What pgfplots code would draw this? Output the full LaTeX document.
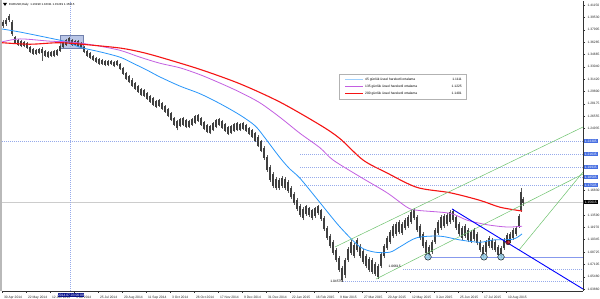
\documentclass[border=0pt]{standalone}
\usepackage{pgfplots}
\pgfplotsset{compat=1.18}
\usepackage{pgfplotstable}
\usepackage{fontspec}
\setmainfont{Liberation Sans}
\definecolor{emablue}{RGB}{40,150,250}
\definecolor{emapurple}{RGB}{195,95,225}
\definecolor{emared}{RGB}{245,20,20}
\definecolor{dotblue}{RGB}{150,170,235}
\definecolor{lblblue}{RGB}{70,110,225}
\definecolor{trendgreen}{RGB}{110,195,110}
\definecolor{navyhl}{RGB}{10,20,140}
\definecolor{circblue}{RGB}{150,205,230}
\definecolor{boxblue}{RGB}{140,160,215}
\newcommand{\tk}{\fontsize{3.3}{4}\selectfont}
\newcommand{\ttl}{\fontsize{2.9}{3.4}\selectfont}

\pgfplotstableread{
x hi lo bhi blo
3 1.392 1.381 1.389 1.384
6 1.394 1.384 1.392 1.387
9 1.400 1.389 1.397 1.392
12 1.392 1.371 1.389 1.373
15 1.371 1.360 1.369 1.362
18 1.367 1.358 1.366 1.359
21 1.366 1.356 1.364 1.358
24 1.364 1.356 1.363 1.358
27 1.363 1.354 1.362 1.355
30 1.358 1.348 1.356 1.350
33 1.355 1.346 1.354 1.347
36 1.354 1.346 1.352 1.347
39 1.355 1.347 1.354 1.348
42 1.356 1.338 1.354 1.348
45 1.352 1.343 1.351 1.345
48 1.351 1.342 1.350 1.343
51 1.351 1.343 1.350 1.345
54 1.352 1.343 1.351 1.345
57 1.354 1.345 1.352 1.346
60 1.359 1.350 1.358 1.351
63 1.364 1.355 1.363 1.356
66 1.367 1.358 1.366 1.359
69 1.369 1.360 1.368 1.362
72 1.367 1.358 1.366 1.359
75 1.366 1.358 1.364 1.359
78 1.366 1.356 1.364 1.358
81 1.363 1.355 1.362 1.356
84 1.358 1.348 1.356 1.350
87 1.352 1.343 1.351 1.345
90 1.350 1.341 1.348 1.342
93 1.346 1.338 1.345 1.339
96 1.343 1.335 1.342 1.337
99 1.342 1.333 1.341 1.334
102 1.341 1.333 1.339 1.334
105 1.339 1.331 1.338 1.333
108 1.339 1.331 1.338 1.333
111 1.339 1.333 1.338 1.334
114 1.338 1.330 1.337 1.331
117 1.339 1.331 1.338 1.333
120 1.335 1.326 1.334 1.327
123 1.330 1.320 1.329 1.321
126 1.324 1.313 1.322 1.314
129 1.320 1.309 1.318 1.310
132 1.316 1.304 1.313 1.305
135 1.310 1.300 1.309 1.301
138 1.306 1.296 1.305 1.297
141 1.303 1.292 1.301 1.293
144 1.301 1.291 1.300 1.292
147 1.297 1.287 1.296 1.288
150 1.293 1.283 1.292 1.284
153 1.291 1.279 1.289 1.280
156 1.287 1.276 1.285 1.278
159 1.288 1.278 1.287 1.279
162 1.284 1.274 1.283 1.275
165 1.280 1.270 1.279 1.271
168 1.276 1.264 1.275 1.266
171 1.271 1.259 1.270 1.261
174 1.264 1.253 1.263 1.254
177 1.261 1.247 1.259 1.250
180 1.263 1.251 1.262 1.253
183 1.264 1.253 1.263 1.254
186 1.262 1.250 1.261 1.251
189 1.261 1.250 1.259 1.251
192 1.263 1.253 1.262 1.254
195 1.267 1.255 1.266 1.257
198 1.268 1.258 1.267 1.259
201 1.264 1.253 1.263 1.254
204 1.259 1.247 1.258 1.249
207 1.255 1.243 1.254 1.245
210 1.254 1.242 1.253 1.243
213 1.258 1.246 1.257 1.247
216 1.262 1.250 1.261 1.251
219 1.263 1.253 1.262 1.254
222 1.261 1.249 1.259 1.250
225 1.257 1.245 1.255 1.246
228 1.253 1.241 1.251 1.242
231 1.254 1.242 1.253 1.243
234 1.257 1.245 1.255 1.246
237 1.258 1.246 1.257 1.247
240 1.257 1.246 1.255 1.247
243 1.258 1.247 1.257 1.249
246 1.255 1.245 1.254 1.246
249 1.251 1.241 1.250 1.242
252 1.249 1.237 1.247 1.238
255 1.245 1.232 1.243 1.233
258 1.241 1.225 1.238 1.226
261 1.234 1.218 1.233 1.220
264 1.226 1.208 1.224 1.211
267 1.214 1.192 1.212 1.195
270 1.201 1.179 1.199 1.182
273 1.192 1.171 1.190 1.174
276 1.186 1.169 1.183 1.171
279 1.184 1.169 1.182 1.171
282 1.187 1.171 1.184 1.174
285 1.186 1.169 1.183 1.171
288 1.182 1.165 1.179 1.167
291 1.174 1.157 1.171 1.159
294 1.166 1.149 1.163 1.152
297 1.158 1.141 1.155 1.144
300 1.150 1.133 1.148 1.136
303 1.146 1.129 1.144 1.132
306 1.149 1.135 1.148 1.137
309 1.146 1.133 1.145 1.136
312 1.144 1.129 1.142 1.132
315 1.146 1.132 1.145 1.135
318 1.149 1.136 1.148 1.138
321 1.144 1.128 1.142 1.131
324 1.135 1.115 1.132 1.117
327 1.121 1.103 1.119 1.106
330 1.111 1.092 1.108 1.095
333 1.103 1.083 1.100 1.086
336 1.092 1.074 1.090 1.077
339 1.082 1.061 1.079 1.064
342 1.069 1.048 1.066 1.050
345 1.079 1.053 1.077 1.057
348 1.094 1.074 1.091 1.077
351 1.103 1.083 1.100 1.086
354 1.099 1.079 1.096 1.082
357 1.106 1.087 1.103 1.090
360 1.098 1.079 1.095 1.082
363 1.091 1.071 1.089 1.074
366 1.085 1.066 1.082 1.069
369 1.081 1.061 1.078 1.064
372 1.079 1.058 1.077 1.061
375 1.074 1.056 1.071 1.058
378 1.071 1.052 1.069 1.054
381 1.087 1.066 1.085 1.069
384 1.098 1.079 1.095 1.082
387 1.108 1.090 1.106 1.092
390 1.116 1.098 1.113 1.100
393 1.124 1.106 1.121 1.108
396 1.127 1.108 1.124 1.111
399 1.129 1.111 1.127 1.113
402 1.127 1.110 1.124 1.112
405 1.132 1.116 1.129 1.119
408 1.136 1.119 1.133 1.121
411 1.142 1.124 1.140 1.127
414 1.145 1.129 1.142 1.132
417 1.136 1.113 1.133 1.116
420 1.124 1.103 1.121 1.106
423 1.113 1.092 1.111 1.095
426 1.103 1.083 1.100 1.086
429 1.096 1.079 1.094 1.082
432 1.103 1.085 1.100 1.087
435 1.119 1.098 1.116 1.100
438 1.129 1.110 1.127 1.112
441 1.136 1.116 1.133 1.119
444 1.137 1.119 1.135 1.121
447 1.138 1.121 1.136 1.124
450 1.142 1.124 1.140 1.127
453 1.144 1.127 1.141 1.129
456 1.136 1.116 1.133 1.119
459 1.127 1.108 1.124 1.111
462 1.121 1.103 1.119 1.106
465 1.124 1.106 1.121 1.108
468 1.119 1.100 1.116 1.103
471 1.116 1.099 1.113 1.102
474 1.119 1.102 1.116 1.104
477 1.113 1.096 1.111 1.099
480 1.103 1.087 1.100 1.090
483 1.096 1.079 1.094 1.082
486 1.103 1.085 1.100 1.087
489 1.108 1.092 1.106 1.095
492 1.106 1.090 1.103 1.092
495 1.103 1.087 1.100 1.090
498 1.096 1.081 1.094 1.083
501 1.095 1.079 1.092 1.082
504 1.106 1.090 1.103 1.092
507 1.112 1.098 1.110 1.100
510 1.113 1.099 1.111 1.102
513 1.119 1.103 1.116 1.106
516 1.121 1.108 1.119 1.111
519 1.137 1.119 1.135 1.121
521 1.171 1.140 1.166 1.142
523 1.159 1.148 1.157 1.152
}\candles

\begin{document}
\begin{tikzpicture}
\fill[white] (0pt,0pt) rectangle (600pt,-299pt);
\useasboundingbox (0pt,0pt) rectangle (600pt,-299pt);
\fill[gray!55] (0pt,0pt) rectangle (1.5pt,-291pt);
\begin{axis}[
  at={(2pt,-1pt)}, anchor=north west,
  scale only axis, width=581pt, height=290pt,
  xmin=2, xmax=583, ymin=1.03599, ymax=1.41676,
  axis x line*=bottom, axis y line*=right,
  axis line style={black!80, line width=0.6pt, -},
  tick align=outside, major tick length=2pt,
  tick style={black!80, line width=0.4pt},
  ytick={1.41150,1.39528,1.37907,1.36285,1.34664,1.33042,1.31420,1.29799,1.28177,1.26556,1.24934,1.16826,1.13583,1.11961,1.10340,1.08718,1.07096,1.05475,1.03853},
  yticklabels={1.41150,1.39530,1.37905,1.36285,1.34665,1.33040,1.31420,1.29800,1.28175,1.26555,1.24935,1.16830,1.13590,1.11970,1.10345,1.08725,1.07105,1.05480,1.03860},
  yticklabel style={font=\tk, xshift=-1pt, text=black!85},
  xtick={2,26,50,74,98,122,146,170,194,218,242,266,290,314,338,362,386,410,434,458,482,506},
  xticklabels={30 Apr 2014,22 May 2014,12 Jun 2014,3 Jul 2014,25 Jul 2014,20 Aug 2014,11 Sep 2014,3 Oct 2014,26 Oct 2014,17 Nov 2014,9 Dec 2014,31 Dec 2014,22 Jan 2015,16 Feb 2015,9 Mar 2015,27 Mar 2015,20 Apr 2015,12 May 2015,3 Jun 2015,25 Jun 2015,17 Jul 2015,10 Aug 2015},
  xticklabel style={font=\tk, anchor=north west, xshift=-1.5pt, yshift=0.8pt, text=black!85},
]
% horizontal reference lines
\addplot[gray!40, line width=0.5pt] coordinates {(2,1.1530) (583,1.1530)};
\addplot[dotblue, line width=0.45pt, dash pattern=on 0.8pt off 1.2pt] coordinates {(2,1.2329) (583,1.2329)};
\addplot[dotblue, line width=0.45pt, dash pattern=on 0.8pt off 1.2pt] coordinates {(300,1.2159) (583,1.2159)};
\addplot[dotblue, line width=0.45pt, dash pattern=on 0.8pt off 1.2pt] coordinates {(300,1.1988) (583,1.1988)};
\addplot[dotblue, line width=0.45pt, dash pattern=on 0.8pt off 1.2pt] coordinates {(300,1.1857) (583,1.1857)};
\addplot[dotblue, line width=0.45pt, dash pattern=on 0.8pt off 1.2pt] coordinates {(300,1.1752) (583,1.1752)};
\addplot[dotblue, line width=0.45pt, dash pattern=on 0.8pt off 1.2pt] coordinates {(403,1.0649) (583,1.0649)};
\addplot[dotblue, line width=0.45pt, dash pattern=on 0.8pt off 1.2pt] coordinates {(343,1.0491) (583,1.0491)};
\addplot[dotblue!90!blue, line width=0.6pt] coordinates {(425,1.0800) (583,1.0800)};
% vertical crosshair line
\addplot[dotblue, line width=0.45pt, dash pattern=on 0.8pt off 1.2pt] coordinates {(70,1.03599) (70,1.41676)};
% highlighted rectangle
\addplot[draw=boxblue!80!black, fill=boxblue, fill opacity=0.6, line width=0.4pt] coordinates {(60,1.3721) (83,1.3721) (83,1.3550) (60,1.3550) (60,1.3721)};
% candles: wicks and bodies
\addplot[draw=none, mark=none, error bars/.cd, y dir=plus, y explicit, error mark=none,
  error bar style={draw=black!65, line width=0.45pt}]
  table[x=x, y=lo, y error expr=\thisrow{hi}-\thisrow{lo}] {\candles};
\addplot[draw=none, mark=none, error bars/.cd, y dir=plus, y explicit, error mark=none,
  error bar style={draw=black!75, line width=1.4pt}]
  table[x=x, y=blo, y error expr=\thisrow{bhi}-\thisrow{blo}] {\candles};
% moving averages
\addplot[emablue, line width=0.8pt, smooth] coordinates {(2,1.380)(20,1.376)(50,1.368)(67,1.363)(80,1.356)(100,1.350)(120,1.343)(133,1.335)(147,1.326)(160,1.317)(180,1.305)(200,1.295)(220,1.282)(240,1.267)(255,1.253)(265,1.237)(280,1.211)(290,1.196)(300,1.184)(320,1.152)(340,1.120)(360,1.094)(375,1.087)(390,1.087)(400,1.094)(417,1.106)(440,1.108)(460,1.103)(480,1.100)(493,1.103)(513,1.104)(522,1.111)};
\addplot[emapurple, line width=0.8pt, smooth] coordinates {(2,1.363)(20,1.367)(50,1.364)(70,1.363)(93,1.359)(120,1.352)(140,1.343)(160,1.335)(180,1.329)(200,1.320)(220,1.309)(240,1.297)(260,1.283)(280,1.264)(300,1.243)(320,1.224)(333,1.208)(360,1.186)(387,1.165)(407,1.146)(417,1.142)(450,1.138)(467,1.129)(487,1.123)(507,1.120)(522,1.121)};
\addplot[emared, line width=1.1pt, smooth] coordinates {(2,1.362)(30,1.360)(60,1.362)(90,1.359)(120,1.355)(140,1.350)(160,1.343)(200,1.327)(240,1.308)(280,1.284)(320,1.254)(340,1.236)(363,1.208)(387,1.191)(417,1.172)(450,1.165)(480,1.155)(500,1.146)(522,1.141)};
% trend lines
\addplot[trendgreen, line width=0.5pt] coordinates {(335,1.0938) (583,1.2513)};
\addplot[trendgreen, line width=0.5pt] coordinates {(376,1.0517) (583,1.1896)};
\addplot[trendgreen, line width=0.5pt] coordinates {(519,1.0898) (583,1.1922)};
\addplot[blue, line width=0.9pt] coordinates {(452,1.1437) (583,1.0386)};
% touch circles
\addplot[only marks, mark=*, mark size=3.3pt, mark options={fill=circblue, draw=none, fill opacity=0.85}] coordinates {(428,1.0808) (484,1.0808) (501,1.0808)};
\addplot[only marks, mark=*, mark size=2.3pt, mark options={fill=red!75!black, draw=none, fill opacity=0.75}] coordinates {(508,1.0998)};
% annotations
\node[anchor=east, font=\tk, inner sep=0.5pt] at (axis cs:343,1.0491) {1.04575};
\node[anchor=west, font=\tk, inner sep=0.5pt] at (axis cs:388,1.0688) {1.06615};
\end{axis}
% right-side price tags
\foreach \yy/\lab in {141/1.23305,154/1.21635,167/1.19935,177/1.18585,185/1.17505}{
  \node[fill=lblblue, text=white, font=\tk, inner sep=0.7pt, anchor=west] at (584pt,-\yy pt) {\lab};
}
\node[fill=black, text=white, font=\tk, inner sep=0.7pt, anchor=west] at (584pt,-202pt) {1.15615};
% crosshair date tag
\node[fill=navyhl, text=white, font=\tk, inner sep=0.6pt] at (71pt,-295pt) {2014.07.03 00:00};
% title
\fill[black] (3pt,-3pt) -- (7pt,-3pt) -- (5pt,-6pt) -- cycle;
\node[anchor=west, font=\ttl, inner sep=0pt] at (9pt,-4.5pt) {EURUSD,Daily\ \ 1.16190 1.16311 1.15249 1.15615};
% legend
\draw[gray!60, fill=white, line width=0.4pt] (339pt,-74pt) rectangle (466pt,-99pt);
\draw[emablue!45!white, line width=1.3pt] (345pt,-79.5pt) -- (363pt,-79.5pt);
\draw[emapurple, line width=0.5pt] (345pt,-86.7pt) -- (363pt,-86.7pt);
\draw[emared, line width=0.5pt] (345pt,-93.5pt) -- (363pt,-93.5pt);
\node[anchor=west, font=\tk, inner sep=0pt] at (365pt,-79.5pt) {45 günlük üssel hareketli ortalama};
\node[anchor=west, font=\tk, inner sep=0pt] at (365pt,-86.7pt) {135 günlük üssel hareketli ortalama};
\node[anchor=west, font=\tk, inner sep=0pt] at (365pt,-93.5pt) {200 günlük üssel hareketli ortalama};
\node[anchor=east, font=\tk, inner sep=0pt] at (462pt,-79.5pt) {1.1111};
\node[anchor=east, font=\tk, inner sep=0pt] at (462pt,-86.7pt) {1.1225};
\node[anchor=east, font=\tk, inner sep=0pt] at (462pt,-93.5pt) {1.1401};
\end{tikzpicture}
\end{document}
